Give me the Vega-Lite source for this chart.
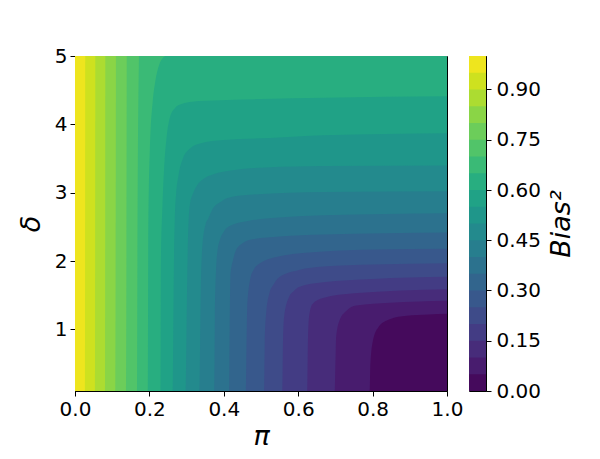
{
  "$schema": "https://vega.github.io/schema/vega-lite/v6.json",
  "padding": {"left": 16, "top": 45, "right": 0, "bottom": 0},
  "background": "white",
  "config": {
    "font": "DejaVu Sans",
    "view": {"stroke": "black", "strokeWidth": 1},
    "axis": {
      "labelFont": "DejaVu Sans", "labelFontSize": 20, "labelColor": "black",
      "tickColor": "black", "domainColor": "black", "tickSize": 5, "tickWidth": 1,
      "labelPadding": 3, "grid": false, "labelFlush": false,
      "titleFont": "DejaVu Sans", "titleFontSize": 27, "titleFontWeight": "normal",
      "titleFontStyle": "italic", "titleColor": "black"
    }
  },
  "datasets": {
    "contours": [
      {"level": 0, "p": 0, "d": 0.1}, {"level": 0, "p": 1, "d": 0.1},
      {"level": 0.05, "p": 0, "d": 0.1}, {"level": 0.05, "p": 0.792, "d": 0.1}, {"level": 0.05, "p": 0.794, "d": 0.49}, {"level": 0.05, "p": 0.801, "d": 0.84}, {"level": 0.05, "p": 0.815, "d": 1.03}, {"level": 0.05, "p": 0.846, "d": 1.15}, {"level": 0.05, "p": 0.891, "d": 1.2}, {"level": 0.05, "p": 0.95, "d": 1.22}, {"level": 0.05, "p": 1, "d": 1.23},
      {"level": 0.1, "p": 0, "d": 0.1}, {"level": 0.1, "p": 0.698, "d": 0.1}, {"level": 0.1, "p": 0.7, "d": 0.5}, {"level": 0.1, "p": 0.702, "d": 0.89}, {"level": 0.1, "p": 0.711, "d": 1.13}, {"level": 0.1, "p": 0.729, "d": 1.27}, {"level": 0.1, "p": 0.756, "d": 1.35}, {"level": 0.1, "p": 0.846, "d": 1.39}, {"level": 0.1, "p": 1, "d": 1.42},
      {"level": 0.15, "p": 0, "d": 0.1}, {"level": 0.15, "p": 0.624, "d": 0.1}, {"level": 0.15, "p": 0.626, "d": 0.8}, {"level": 0.15, "p": 0.629, "d": 1.18}, {"level": 0.15, "p": 0.638, "d": 1.37}, {"level": 0.15, "p": 0.667, "d": 1.46}, {"level": 0.15, "p": 0.75, "d": 1.53}, {"level": 0.15, "p": 1, "d": 1.59},
      {"level": 0.2, "p": 0, "d": 0.1}, {"level": 0.2, "p": 0.557, "d": 0.1}, {"level": 0.2, "p": 0.559, "d": 0.8}, {"level": 0.2, "p": 0.562, "d": 1.18}, {"level": 0.2, "p": 0.575, "d": 1.47}, {"level": 0.2, "p": 0.59, "d": 1.57}, {"level": 0.2, "p": 0.602, "d": 1.62}, {"level": 0.2, "p": 0.667, "d": 1.69}, {"level": 0.2, "p": 0.8, "d": 1.74}, {"level": 0.2, "p": 1, "d": 1.77},
      {"level": 0.25, "p": 0, "d": 0.1}, {"level": 0.25, "p": 0.508, "d": 0.1}, {"level": 0.25, "p": 0.51, "d": 0.8}, {"level": 0.25, "p": 0.513, "d": 1.18}, {"level": 0.25, "p": 0.522, "d": 1.52}, {"level": 0.25, "p": 0.535, "d": 1.67}, {"level": 0.25, "p": 0.548, "d": 1.76}, {"level": 0.25, "p": 0.602, "d": 1.87}, {"level": 0.25, "p": 0.667, "d": 1.92}, {"level": 0.25, "p": 0.8, "d": 1.95}, {"level": 0.25, "p": 1, "d": 1.97},
      {"level": 0.3, "p": 0, "d": 0.1}, {"level": 0.3, "p": 0.459, "d": 0.1}, {"level": 0.3, "p": 0.461, "d": 0.8}, {"level": 0.3, "p": 0.463, "d": 1.32}, {"level": 0.3, "p": 0.472, "d": 1.76}, {"level": 0.3, "p": 0.48, "d": 1.87}, {"level": 0.3, "p": 0.495, "d": 1.96}, {"level": 0.3, "p": 0.557, "d": 2.08}, {"level": 0.3, "p": 0.667, "d": 2.14}, {"level": 0.3, "p": 0.8, "d": 2.17}, {"level": 0.3, "p": 1, "d": 2.18},
      {"level": 0.35, "p": 0, "d": 0.1}, {"level": 0.35, "p": 0.414, "d": 0.1}, {"level": 0.35, "p": 0.416, "d": 1.2}, {"level": 0.35, "p": 0.418, "d": 1.81}, {"level": 0.35, "p": 0.425, "d": 2.02}, {"level": 0.35, "p": 0.432, "d": 2.15}, {"level": 0.35, "p": 0.45, "d": 2.26}, {"level": 0.35, "p": 0.468, "d": 2.31}, {"level": 0.35, "p": 0.55, "d": 2.36}, {"level": 0.35, "p": 0.667, "d": 2.39}, {"level": 0.35, "p": 1, "d": 2.42},
      {"level": 0.4, "p": 0, "d": 0.1}, {"level": 0.4, "p": 0.374, "d": 0.1}, {"level": 0.4, "p": 0.376, "d": 1.2}, {"level": 0.4, "p": 0.379, "d": 1.86}, {"level": 0.4, "p": 0.383, "d": 2.15}, {"level": 0.4, "p": 0.39, "d": 2.32}, {"level": 0.4, "p": 0.4, "d": 2.43}, {"level": 0.4, "p": 0.423, "d": 2.53}, {"level": 0.4, "p": 0.468, "d": 2.59}, {"level": 0.4, "p": 0.558, "d": 2.64}, {"level": 0.4, "p": 0.667, "d": 2.67}, {"level": 0.4, "p": 1, "d": 2.7},
      {"level": 0.45, "p": 0, "d": 0.1}, {"level": 0.45, "p": 0.335, "d": 0.1}, {"level": 0.45, "p": 0.338, "d": 1.5}, {"level": 0.45, "p": 0.342, "d": 2.2}, {"level": 0.45, "p": 0.351, "d": 2.54}, {"level": 0.45, "p": 0.358, "d": 2.62}, {"level": 0.45, "p": 0.372, "d": 2.78}, {"level": 0.45, "p": 0.39, "d": 2.86}, {"level": 0.45, "p": 0.408, "d": 2.92}, {"level": 0.45, "p": 0.468, "d": 2.97}, {"level": 0.45, "p": 0.667, "d": 3.01}, {"level": 0.45, "p": 1, "d": 3.02},
      {"level": 0.5, "p": 0, "d": 0.1}, {"level": 0.5, "p": 0.298, "d": 0.1}, {"level": 0.5, "p": 0.301, "d": 1.5}, {"level": 0.5, "p": 0.305, "d": 2.55}, {"level": 0.5, "p": 0.309, "d": 2.83}, {"level": 0.5, "p": 0.318, "d": 3.0}, {"level": 0.5, "p": 0.327, "d": 3.1}, {"level": 0.5, "p": 0.345, "d": 3.2}, {"level": 0.5, "p": 0.372, "d": 3.27}, {"level": 0.5, "p": 0.423, "d": 3.33}, {"level": 0.5, "p": 0.513, "d": 3.37}, {"level": 0.5, "p": 0.667, "d": 3.39}, {"level": 0.5, "p": 1, "d": 3.4},
      {"level": 0.55, "p": 0, "d": 0.1}, {"level": 0.55, "p": 0.263, "d": 0.1}, {"level": 0.55, "p": 0.265, "d": 1.5}, {"level": 0.55, "p": 0.268, "d": 2.59}, {"level": 0.55, "p": 0.272, "d": 3.0}, {"level": 0.55, "p": 0.278, "d": 3.25}, {"level": 0.55, "p": 0.29, "d": 3.5}, {"level": 0.55, "p": 0.31, "d": 3.65}, {"level": 0.55, "p": 0.336, "d": 3.72}, {"level": 0.55, "p": 0.4, "d": 3.77}, {"level": 0.55, "p": 0.524, "d": 3.8}, {"level": 0.55, "p": 0.667, "d": 3.84}, {"level": 0.55, "p": 1, "d": 3.87},
      {"level": 0.6, "p": 0, "d": 0.1}, {"level": 0.6, "p": 0.23, "d": 0.1}, {"level": 0.6, "p": 0.231, "d": 2.0}, {"level": 0.6, "p": 0.235, "d": 2.8}, {"level": 0.6, "p": 0.24, "d": 3.4}, {"level": 0.6, "p": 0.246, "d": 3.8}, {"level": 0.6, "p": 0.255, "d": 4.1}, {"level": 0.6, "p": 0.269, "d": 4.24}, {"level": 0.6, "p": 0.282, "d": 4.29}, {"level": 0.6, "p": 0.333, "d": 4.34}, {"level": 0.6, "p": 0.5, "d": 4.37}, {"level": 0.6, "p": 0.667, "d": 4.39}, {"level": 0.6, "p": 1, "d": 4.41},
      {"level": 0.65, "p": 0, "d": 0.1}, {"level": 0.65, "p": 0.196, "d": 0.1}, {"level": 0.65, "p": 0.197, "d": 2.5}, {"level": 0.65, "p": 0.201, "d": 3.6}, {"level": 0.65, "p": 0.209, "d": 4.34}, {"level": 0.65, "p": 0.215, "d": 4.6}, {"level": 0.65, "p": 0.225, "d": 4.85}, {"level": 0.65, "p": 0.242, "d": 5.0},
      {"level": 0.7, "p": 0, "d": 0.1}, {"level": 0.7, "p": 0.167, "d": 0.1}, {"level": 0.7, "p": 0.168, "d": 2.5}, {"level": 0.7, "p": 0.172, "d": 5.0},
      {"level": 0.75, "p": 0, "d": 0.1}, {"level": 0.75, "p": 0.137, "d": 0.1}, {"level": 0.75, "p": 0.139, "d": 5.0},
      {"level": 0.8, "p": 0, "d": 0.1}, {"level": 0.8, "p": 0.108, "d": 0.1}, {"level": 0.8, "p": 0.11, "d": 5.0},
      {"level": 0.85, "p": 0, "d": 0.1}, {"level": 0.85, "p": 0.0805, "d": 0.1}, {"level": 0.85, "p": 0.0815, "d": 5.0},
      {"level": 0.9, "p": 0, "d": 0.1}, {"level": 0.9, "p": 0.0535, "d": 0.1}, {"level": 0.9, "p": 0.0545, "d": 5.0},
      {"level": 0.95, "p": 0, "d": 0.1}, {"level": 0.95, "p": 0.0265, "d": 0.1}, {"level": 0.95, "p": 0.0275, "d": 5.0}
    ],
    "bar": [
      {"level": 0}, {"level": 0.05}, {"level": 0.1}, {"level": 0.15},
      {"level": 0.2}, {"level": 0.25}, {"level": 0.3}, {"level": 0.35},
      {"level": 0.4}, {"level": 0.45}, {"level": 0.5}, {"level": 0.55},
      {"level": 0.6}, {"level": 0.65}, {"level": 0.7}, {"level": 0.75},
      {"level": 0.8}, {"level": 0.85}, {"level": 0.9}, {"level": 0.95}
    ]
  },
  "spacing": 4,
  "hconcat": [
    {
      "width": 372,
      "height": 335,
      "data": {"name": "contours"},
      "mark": {"type": "area", "interpolate": "monotone", "clip": true},
      "encoding": {
        "x": {
          "field": "p", "type": "quantitative",
          "scale": {"domain": [0, 1], "nice": false},
          "axis": {"values": [0, 0.2, 0.4, 0.6, 0.8, 1], "format": ".1f", "title": "π", "titlePadding": 4}
        },
        "y": {
          "field": "d", "type": "quantitative", "stack": null,
          "scale": {"domain": [0.1, 5], "nice": false, "zero": false},
          "axis": {"values": [1, 2, 3, 4, 5], "format": "d", "title": "δ", "titlePadding": 9}
        },
        "y2": {"datum": 5},
        "color": {
          "field": "level", "type": "quantitative",
          "scale": {
            "type": "threshold",
            "domain": [0.05, 0.1, 0.15, 0.2, 0.25, 0.3, 0.35, 0.4, 0.45, 0.5, 0.55, 0.6, 0.65, 0.7, 0.75, 0.8, 0.85, 0.9, 0.95],
            "range": ["#450a5c", "#481c6e", "#472c7a", "#433c84", "#3e4b89", "#38588c", "#32658d", "#2c728e", "#277e8e", "#238a8d", "#1f968a", "#20a286", "#28ae80", "#3aba76", "#51c469", "#6ccd5a", "#8ad546", "#acdc31", "#cee11f", "#eee51e"]
          },
          "legend": null
        }
      }
    },
    {
      "width": 17,
      "height": 335,
      "data": {"name": "bar"},
      "mark": {"type": "rect"},
      "encoding": {
        "x": {"datum": 0, "type": "quantitative", "scale": {"domain": [0, 1], "nice": false}, "axis": null},
        "x2": {"datum": 1},
        "y": {
          "field": "level", "type": "quantitative",
          "scale": {"domain": [0, 1], "nice": false},
          "axis": {"orient": "right", "values": [0, 0.15, 0.3, 0.45, 0.6, 0.75, 0.9], "format": ".2f", "labelPadding": 5, "title": "Bias²", "titleAngle": 270, "titleBaseline": "top", "titlePadding": 8}
        },
        "y2": {"datum": 1},
        "color": {
          "field": "level", "type": "quantitative",
          "scale": {
            "type": "threshold",
            "domain": [0.05, 0.1, 0.15, 0.2, 0.25, 0.3, 0.35, 0.4, 0.45, 0.5, 0.55, 0.6, 0.65, 0.7, 0.75, 0.8, 0.85, 0.9, 0.95],
            "range": ["#450a5c", "#481c6e", "#472c7a", "#433c84", "#3e4b89", "#38588c", "#32658d", "#2c728e", "#277e8e", "#238a8d", "#1f968a", "#20a286", "#28ae80", "#3aba76", "#51c469", "#6ccd5a", "#8ad546", "#acdc31", "#cee11f", "#eee51e"]
          },
          "legend": null
        }
      }
    }
  ]
}
